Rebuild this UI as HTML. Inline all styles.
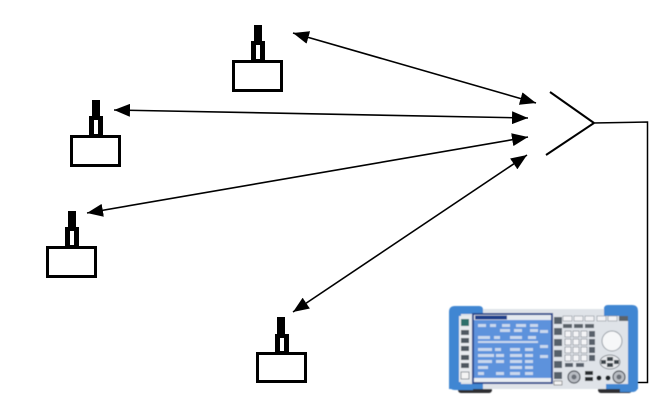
<!DOCTYPE html>
<html>
<head>
<meta charset="utf-8">
<style>
html,body{margin:0;padding:0;background:#fff;}
svg{display:block;}
</style>
</head>
<body>
<svg width="672" height="412" viewBox="0 0 672 412" xmlns="http://www.w3.org/2000/svg">
<defs>
  <marker id="ah" markerUnits="userSpaceOnUse" markerWidth="17" markerHeight="13" refX="16" refY="6.5" orient="auto-start-reverse">
    <path d="M0,0 L16,6.5 L0,13 z" fill="#000"/>
  </marker>
  <g id="ant">
    <rect x="22" y="-35" width="8" height="17" fill="#000"/>
    <rect x="19" y="-19" width="14" height="21" fill="#000"/>
    <rect x="24" y="-15" width="4" height="14" fill="#fff"/>
    <rect x="1.5" y="1.5" width="48" height="29" fill="#fff" stroke="#000" stroke-width="3"/>
  </g>
  <filter id="soft"><feGaussianBlur stdDeviation="0.45"/></filter>
</defs>

<!-- antennas -->
<use href="#ant" x="232" y="60"/>
<use href="#ant" x="70" y="135"/>
<use href="#ant" x="46" y="246"/>
<g transform="translate(256,352)">
  <rect x="21" y="-35" width="8" height="18" fill="#000"/>
  <rect x="19" y="-18" width="14" height="21" fill="#000"/>
  <rect x="24" y="-14" width="4" height="13" fill="#fff"/>
  <rect x="1.5" y="1.5" width="48" height="28" fill="#fff" stroke="#000" stroke-width="3"/>
</g>

<!-- arrows -->
<g stroke="#000" stroke-width="1.6" fill="none">
  <line x1="293" y1="33" x2="536" y2="103" marker-start="url(#ah)" marker-end="url(#ah)"/>
  <line x1="114" y1="110" x2="528" y2="118" marker-start="url(#ah)" marker-end="url(#ah)"/>
  <line x1="87" y1="213" x2="528" y2="137" marker-start="url(#ah)" marker-end="url(#ah)"/>
  <line x1="293" y1="312" x2="527" y2="155" marker-start="url(#ah)" marker-end="url(#ah)"/>
</g>

<!-- receiving antenna (Y) and cable -->
<g stroke="#000" fill="none">
  <line x1="550" y1="92" x2="594" y2="123" stroke-width="2"/>
  <line x1="546" y1="155" x2="594" y2="123" stroke-width="2"/>
  <polyline points="593,123 647.5,122 647.5,382.5 634,382.5" stroke-width="1.5"/>
</g>

<!-- instrument -->
<g filter="url(#soft)">
  <!-- feet -->
  <rect x="458" y="384" width="34" height="9" rx="3" fill="#2d2f33"/>
  <rect x="598" y="384" width="34" height="9" rx="3" fill="#2d2f33"/>
  <!-- body -->
  <rect x="455" y="309" width="177" height="80" rx="2" fill="#dfe3e8"/>
  <!-- left handle -->
  <path d="M449,312 q0,-6 6,-6 h24 q4,0 4,4 v4 h-22 v70 h12 v6 h-18 q-6,0 -6,-6 z" fill="#3f86d2"/>
  <!-- right handle -->
  <path d="M604,309 q0,-4 4,-4 h24 q6,0 6,6 v75 q0,6 -6,6 h-12 v-6 h8 v-70 h-24 z" fill="#3f86d2"/>
  <rect x="449" y="384" width="34" height="5" fill="#3f86d2"/>
  <rect x="606" y="384" width="32" height="5" fill="#3f86d2"/>
  <!-- left button column -->
  <rect x="459" y="316" width="12" height="66" fill="#e8ebee"/>
  <rect x="461" y="319" width="8" height="7" fill="#2f6f6a"/>
  <rect x="461" y="330" width="8" height="5" fill="#505860"/>
  <rect x="461" y="338" width="8" height="5" fill="#505860"/>
  <rect x="461" y="346" width="8" height="5" fill="#505860"/>
  <rect x="461" y="355" width="8" height="5" fill="#505860"/>
  <rect x="461" y="363" width="8" height="5" fill="#505860"/>
  <rect x="461" y="372" width="8" height="7" fill="#f4f4f4" stroke="#7a8088" stroke-width="0.8"/>
  <!-- screen -->
  <rect x="472" y="313" width="81" height="71" fill="#2d4d90"/>
  <rect x="474" y="315" width="77" height="67" fill="#5d92dc"/>
  <rect x="474" y="315" width="77" height="5" fill="#e4e9f0"/>
  <rect x="475" y="315.5" width="32" height="4" fill="#1e3d8a"/>
  <g fill="#c9d8ee">
    <rect x="478" y="324" width="8" height="3"/><rect x="490" y="324" width="6" height="3"/><rect x="502" y="324" width="8" height="3"/><rect x="516" y="324" width="10" height="3"/><rect x="530" y="324" width="8" height="3"/>
    <rect x="500" y="329" width="10" height="3"/><rect x="514" y="329" width="8" height="3"/><rect x="530" y="329" width="8" height="3"/>
    <rect x="478" y="336" width="12" height="3"/><rect x="494" y="336" width="6" height="3"/><rect x="510" y="336" width="12" height="3"/><rect x="528" y="336" width="8" height="3"/>
    <rect x="478" y="341" width="60" height="2"/>
    <rect x="478" y="348" width="14" height="3"/><rect x="495" y="348" width="6" height="3"/><rect x="510" y="348" width="10" height="3"/><rect x="525" y="348" width="8" height="3"/>
    <rect x="478" y="354" width="16" height="3"/><rect x="496" y="354" width="8" height="3"/><rect x="510" y="354" width="12" height="3"/><rect x="525" y="354" width="8" height="3"/>
    <rect x="478" y="360" width="14" height="3"/><rect x="496" y="360" width="8" height="3"/><rect x="510" y="360" width="12" height="3"/><rect x="525" y="360" width="8" height="3"/>
    <rect x="478" y="366" width="10" height="3"/><rect x="510" y="366" width="12" height="3"/><rect x="525" y="366" width="8" height="3"/>
    <rect x="478" y="372" width="6" height="3"/><rect x="496" y="372" width="8" height="3"/><rect x="510" y="372" width="10" height="3"/><rect x="525" y="372" width="8" height="3"/>
    <rect x="540" y="330" width="8" height="3"/><rect x="540" y="345" width="8" height="3"/><rect x="540" y="355" width="8" height="3"/>
  </g>
  <rect x="474" y="378" width="77" height="4" fill="#e8edf3"/>
  <!-- softkeys -->
  <g fill="#56606a">
    <rect x="554" y="317" width="8" height="7"/><rect x="554" y="328" width="8" height="7"/><rect x="554" y="339" width="8" height="7"/>
    <rect x="554" y="350" width="8" height="7"/><rect x="554" y="361" width="8" height="7"/><rect x="554" y="372" width="8" height="7"/>
  </g>
  <!-- keypad -->
  <g fill="#f2f3f5" stroke="#8a9098" stroke-width="0.6">
    <rect x="563" y="316" width="9" height="5"/><rect x="574" y="316" width="9" height="5"/><rect x="585" y="316" width="9" height="5"/>
    <rect x="597" y="316" width="9" height="5"/><rect x="608" y="316" width="9" height="5"/>
  </g>
  <g fill="#5b636b">
    <rect x="563" y="324" width="9" height="4"/><rect x="574" y="324" width="9" height="4"/><rect x="585" y="324" width="9" height="4"/>
    <rect x="619" y="316" width="9" height="5"/>
  </g>
  <g fill="#f4f5f7" stroke="#7c838b" stroke-width="0.6">
    <rect x="565" y="331" width="6" height="6"/><rect x="573" y="331" width="6" height="6"/><rect x="581" y="331" width="6" height="6"/>
    <rect x="565" y="339" width="6" height="6"/><rect x="573" y="339" width="6" height="6"/><rect x="581" y="339" width="6" height="6"/>
    <rect x="565" y="347" width="6" height="6"/><rect x="573" y="347" width="6" height="6"/><rect x="581" y="347" width="6" height="6"/>
    <rect x="565" y="355" width="6" height="6"/><rect x="573" y="355" width="6" height="6"/><rect x="581" y="355" width="6" height="6"/>
  </g>
  <g fill="#58606a">
    <rect x="589" y="331" width="6" height="6"/><rect x="589" y="339" width="6" height="6"/><rect x="589" y="347" width="6" height="6"/><rect x="589" y="355" width="6" height="6"/>
    <rect x="565" y="363" width="8" height="4"/><rect x="576" y="363" width="8" height="4"/>
  </g>
  <!-- knob -->
  <circle cx="612" cy="341" r="10" fill="#f6f7f8" stroke="#9aa0a8" stroke-width="1"/>
  <!-- navigation cluster -->
  <ellipse cx="610" cy="362" rx="10" ry="7" fill="#e6e8eb" stroke="#6b7279" stroke-width="0.8"/>
  <rect x="607" y="357" width="6" height="4" fill="#3c444c"/>
  <rect x="607" y="363" width="6" height="4" fill="#3c444c"/>
  <rect x="601" y="360" width="5" height="4" fill="#3c444c"/>
  <rect x="614" y="360" width="5" height="4" fill="#3c444c"/>
  <!-- connectors -->
  <circle cx="574" cy="377" r="6" fill="#b8bcc2" stroke="#4a5058" stroke-width="1.2"/>
  <circle cx="574" cy="377" r="2.5" fill="#6a7078"/>
  <circle cx="619" cy="377" r="6" fill="#b8bcc2" stroke="#4a5058" stroke-width="1.2"/>
  <circle cx="619" cy="377" r="2.5" fill="#6a7078"/>
  <rect x="585" y="371" width="8" height="4" fill="#2a2e33"/>
  <rect x="585" y="377" width="8" height="4" fill="#2a2e33"/>
  <circle cx="599" cy="378" r="2.5" fill="#1f2226"/>
  <circle cx="608" cy="378" r="2.5" fill="#1f2226"/>
  <rect x="554" y="381" width="8" height="4" fill="#f4f4f4" stroke="#444" stroke-width="0.5"/>
</g>
</svg>
</body>
</html>
